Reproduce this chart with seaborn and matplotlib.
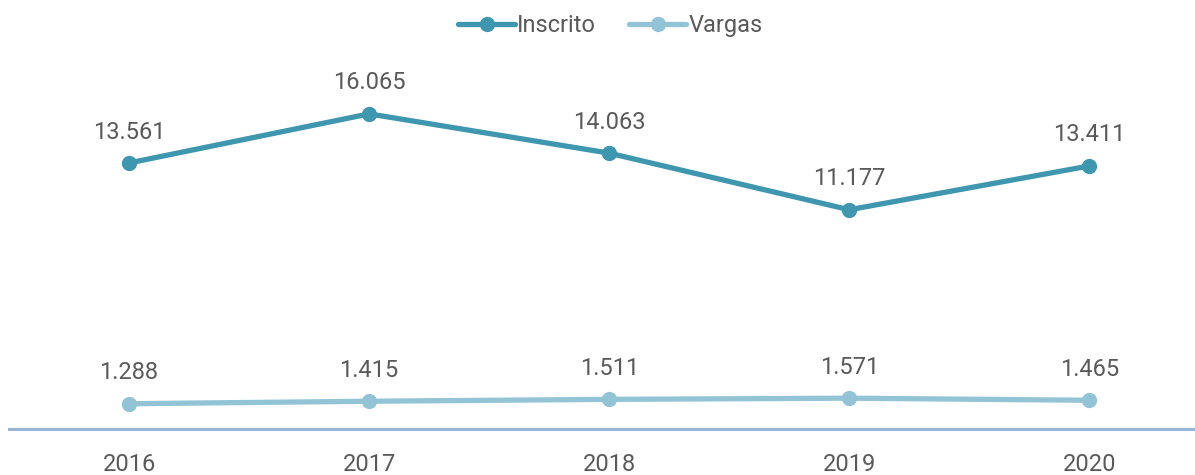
import pandas as pd
import matplotlib.pyplot as plt
import seaborn as sns

# ---------------------------------
# Data
# ---------------------------------

anos = ["2016", "2017", "2018", "2019", "2020"]
inscrito = [13561, 16065, 14063, 11177, 13411]
vargas = [1288, 1415, 1511, 1571, 1465]

series = ["Inscrito", "Vargas"]
cores = {"Inscrito": "#3E97AE", "Vargas": "#92C4D6"}

df = pd.DataFrame({
    "ano": list(range(len(anos))) * 2,
    "valor": inscrito + vargas,
    "serie": ["Inscrito"] * len(anos) + ["Vargas"] * len(anos),
})

sns.set_style("white")
plt.rcParams["font.family"] = ["Roboto", "DejaVu Sans"]
cinza = "#595959"

# ======================================================
# Line chart
# ======================================================

fig = plt.figure(figsize=(11.95, 4.75), dpi=100)
ax = fig.add_axes([9 / 1195, 46 / 475, 1 - 9 / 1195, 1 - 46 / 475])

sns.lineplot(
    data=df,
    x="ano",
    y="valor",
    hue="serie",
    hue_order=series,
    palette=cores,
    marker="o",
    markersize=11,
    markeredgewidth=0,
    linewidth=3.8,
    ax=ax,
)

for _, row in df.iterrows():
    ax.annotate(
        f"{row['valor']:,}".replace(",", "."),
        (row["ano"], row["valor"]),
        xytext=(0, 14),
        textcoords="offset points",
        ha="center",
        va="bottom",
        fontsize=17,
        color=cinza,
    )

ax.set_xlim(-0.5, 4.44)
ax.set_ylim(0, 21870)
ax.set_xticks(range(len(anos)))
ax.set_xticklabels(anos)
ax.tick_params(axis="x", length=0, pad=17, labelsize=17, labelcolor=cinza)
ax.set_yticks([])
ax.set_xlabel("")
ax.set_ylabel("")

for lado in ["top", "left", "right"]:
    ax.spines[lado].set_visible(False)
ax.spines["bottom"].set_color("#9AB4D6")
ax.spines["bottom"].set_linewidth(2.2)

handles, labels = ax.get_legend_handles_labels()
ax.legend(
    handles,
    labels,
    loc="upper center",
    bbox_to_anchor=(0.507, 0.995),
    ncol=2,
    frameon=False,
    fontsize=17,
    labelcolor=cinza,
    handlelength=2.4,
    handletextpad=0.1,
    columnspacing=1.4,
    borderaxespad=0.1,
)

fig.savefig("out.png", dpi=100)
